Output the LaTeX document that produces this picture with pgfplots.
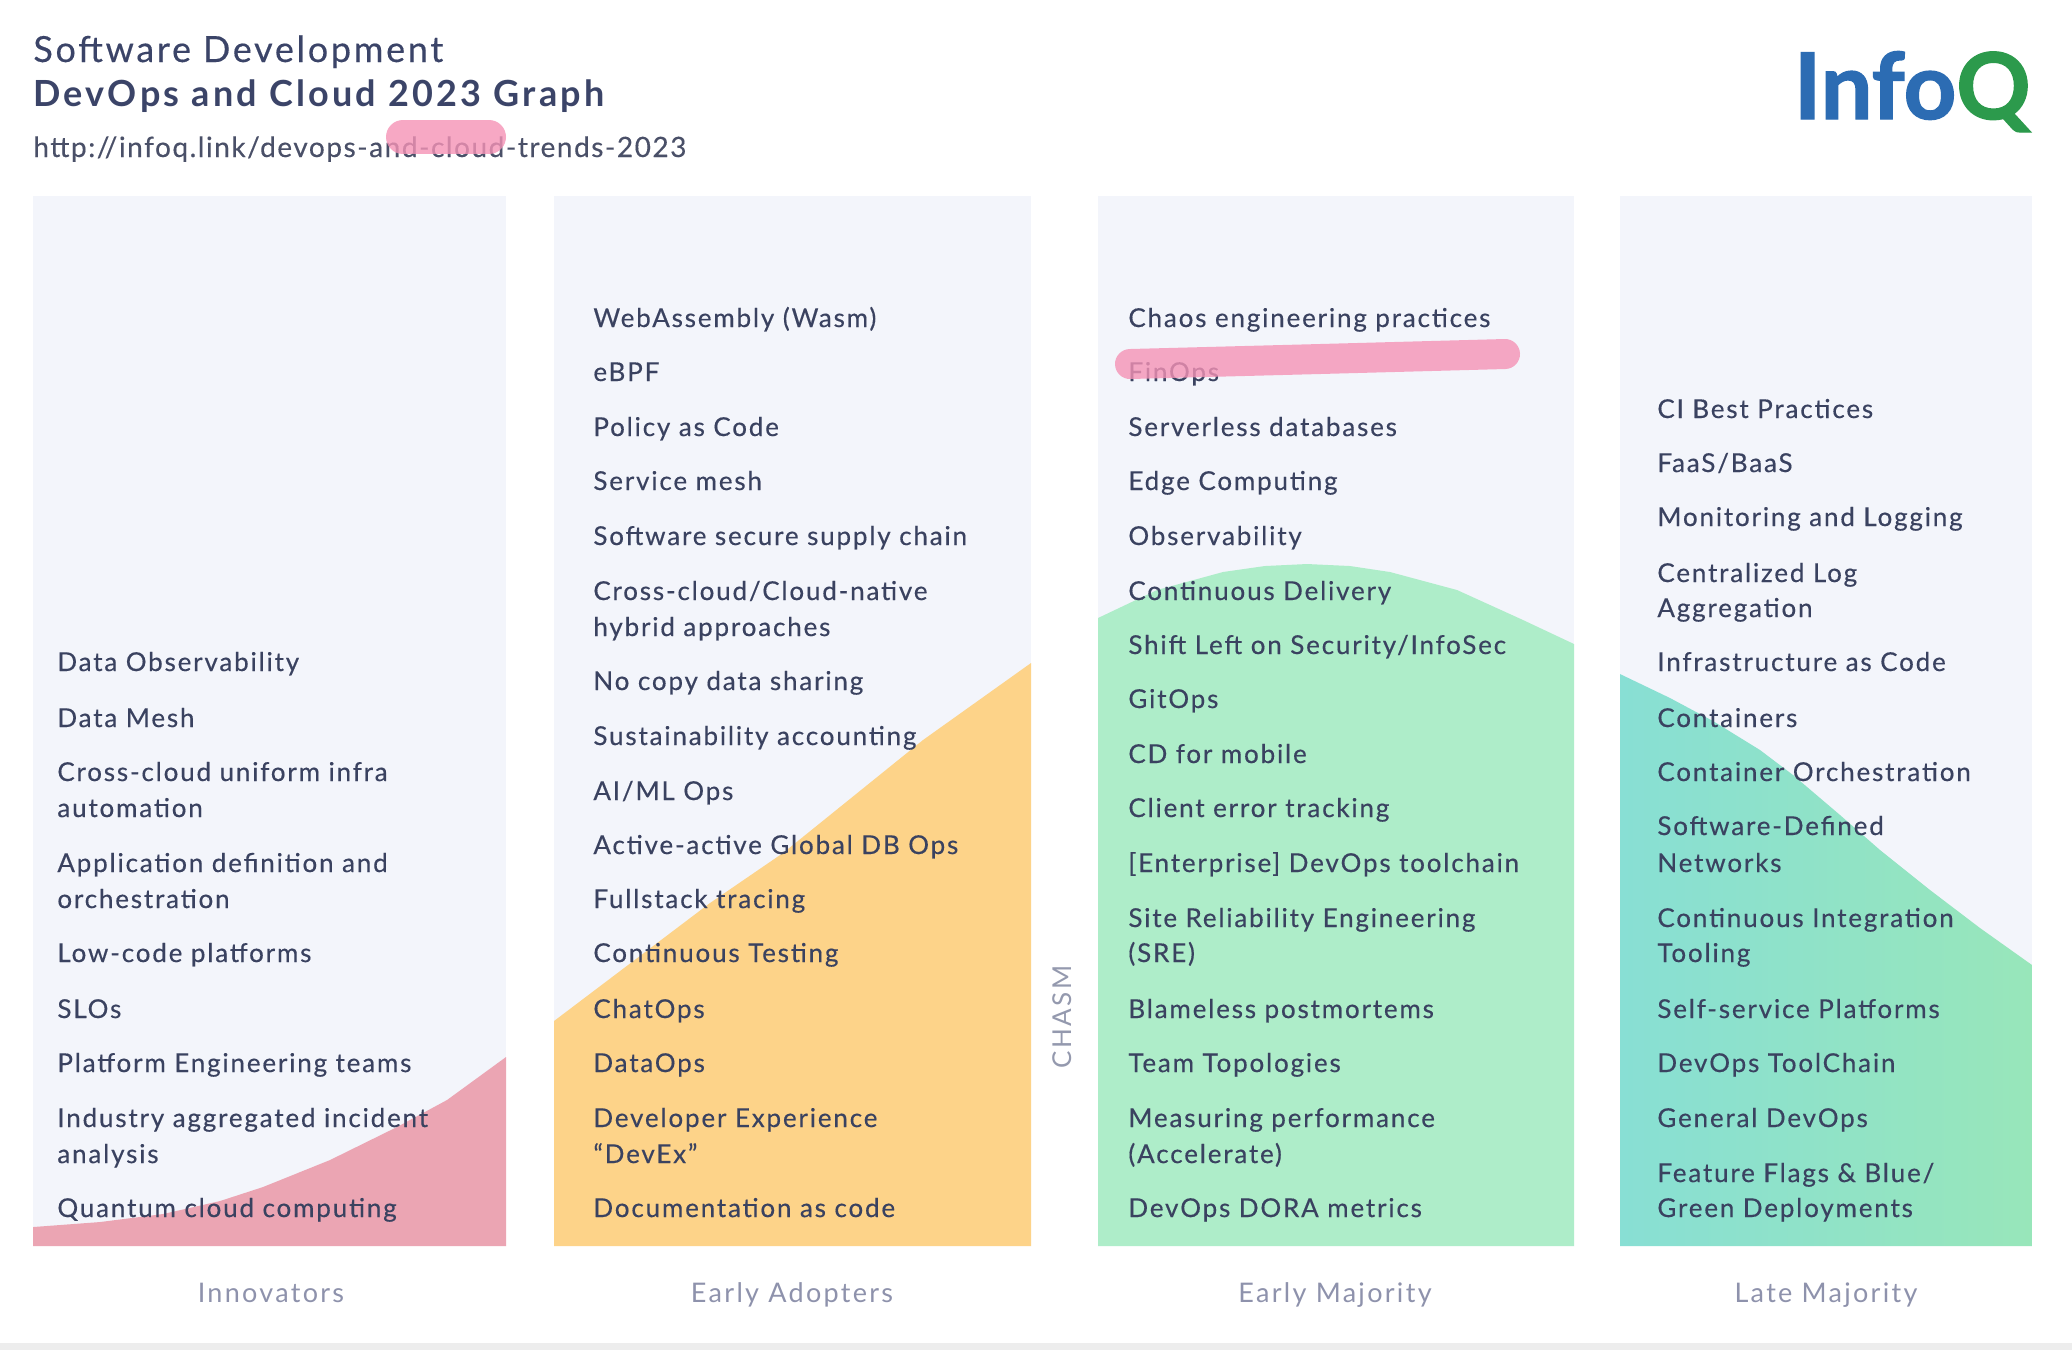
\documentclass[border=0pt]{standalone}
\usepackage{pgfplots}
\pgfplotsset{compat=1.18}
\usepackage{fontspec}
\setmainfont{Lato}[LetterSpace=7]
\definecolor{panelbg}{HTML}{F3F5FB}
\definecolor{pinkA}{HTML}{EBA5B3}
\definecolor{orangeA}{HTML}{FDD389}
\definecolor{greenA}{HTML}{AEEDC9}
\definecolor{tealL}{HTML}{88DFD4}
\definecolor{tealR}{HTML}{98E6BA}
\definecolor{txt}{HTML}{3A4260}
\definecolor{ttl}{HTML}{3B4468}
\definecolor{urlc}{HTML}{4A5068}
\definecolor{catc}{HTML}{8E92AC}
\definecolor{chasmc}{HTML}{9499AE}
\definecolor{infoblue}{HTML}{2C6CB3}
\definecolor{infogreen}{HTML}{2C9A4C}
\definecolor{hl}{HTML}{F593B6}
\newcommand\bodyfont{\fontsize{13}{15}\selectfont\addfontfeature{FakeBold=0.35}}
\tikzset{
  itm/.style={anchor=base west, font=\bodyfont, text=txt, inner sep=0pt},
  cat/.style={anchor=base, font=\fontsize{13.5}{16}\selectfont\addfontfeature{LetterSpace=8.5}, text=catc, inner sep=0pt}}
\begin{document}
\begin{tikzpicture}
\begin{axis}[width=1036pt, height=675pt, scale only axis,
  xmin=0, xmax=2072, ymin=0, ymax=1350, y dir=reverse,
  hide axis, clip=false]
% background
\addplot[draw=none, fill=white] coordinates {(0,0) (2072,0) (2072,1350) (0,1350)} -- cycle;
\addplot[draw=none, fill=black!7] coordinates {(0,1343) (2072,1343) (2072,1350) (0,1350)} -- cycle;
% panels
\addplot[draw=none, fill=panelbg] coordinates {(33,196) (506,196) (506,1246) (33,1246)} -- cycle;
\addplot[draw=none, fill=panelbg] coordinates {(554,196) (1031,196) (1031,1246) (554,1246)} -- cycle;
\addplot[draw=none, fill=panelbg] coordinates {(1098,196) (1574,196) (1574,1246) (1098,1246)} -- cycle;
\addplot[draw=none, fill=panelbg] coordinates {(1620,196) (2032,196) (2032,1246) (1620,1246)} -- cycle;
% adoption curves
\addplot[draw=none, fill=pinkA] coordinates {(33,1246) (33,1227) (100,1222) (163,1214) (220,1201) (263,1187) (330,1160) (397,1127) (447,1100) (506,1057) (506,1246)} -- cycle;
\addplot[draw=none, fill=orangeA] coordinates {(554,1246) (554,1021) (710,903) (783,853) (923,740) (1031,663) (1031,1246)} -- cycle;
\addplot[draw=none, fill=greenA] coordinates {(1098,1246) (1098,618) (1157,590) (1223,572) (1265,566) (1307,564) (1350,566) (1390,572) (1457,590) (1523,620) (1574,644) (1574,1246)} -- cycle;
\addplot[draw=none, left color=tealL, right color=tealR] coordinates {(1620,1246) (1620,674) (1670,698) (1713,721) (1760,750) (1793,775) (1840,815) (1880,850) (1930,890) (1980,928) (2032,965) (2032,1246)} -- cycle;
% titles
\node[anchor=base west, inner sep=0pt, text=ttl, font=\fontsize{18}{20}\selectfont\addfontfeature{LetterSpace=7.5,FakeBold=0.3}] at (33,62) {Software Development};
\node[anchor=base west, inner sep=0pt, text=ttl, font=\fontsize{18}{20}\selectfont\bfseries\addfontfeature{LetterSpace=9}] at (33,106) {DevOps and Cloud 2023 Graph};
\node[anchor=base west, inner sep=0pt, text=urlc, font=\fontsize{14}{16}\selectfont\addfontfeature{LetterSpace=5.5,FakeBold=0.3}] at (33,157) {http://infoq.link/devops-and-cloud-trends-2023};
\node[anchor=base east, inner sep=0pt, font=\fontsize{46}{50}\selectfont\bfseries\addfontfeature{LetterSpace=0,FakeBold=1.5}] at (2031,119) {\textcolor{infoblue}{Info}\textcolor{infogreen}{Q}};
% Innovators
\node[itm] at (57,671) {Data Observability};
\node[itm] at (57,727) {Data Mesh};
\node[itm] at (57,781) {Cross-cloud uniform infra};
\node[itm] at (57,817) {automation};
\node[itm] at (57,872) {Application definition and};
\node[itm] at (57,908) {orchestration};
\node[itm] at (57,962) {Low-code platforms};
\node[itm] at (57,1018) {SLOs};
\node[itm] at (57,1072) {Platform Engineering teams};
\node[itm] at (57,1127) {Industry aggregated incident};
\node[itm] at (57,1163) {analysis};
\node[itm] at (57,1217) {Quantum cloud computing};
% Early Adopters
\node[itm] at (593,327) {WebAssembly (Wasm)};
\node[itm] at (593,381) {eBPF};
\node[itm] at (593,436) {Policy as Code};
\node[itm] at (593,490) {Service mesh};
\node[itm] at (593,545) {Software secure supply chain};
\node[itm] at (593,600) {Cross-cloud/Cloud-native};
\node[itm] at (593,636) {hybrid approaches};
\node[itm] at (593,690) {No copy data sharing};
\node[itm] at (593,745) {Sustainability accounting};
\node[itm] at (593,800) {AI/ML Ops};
\node[itm] at (593,854) {Active-active Global DB Ops};
\node[itm] at (593,908) {Fullstack tracing};
\node[itm] at (593,962) {Continuous Testing};
\node[itm] at (593,1018) {ChatOps};
\node[itm] at (593,1072) {DataOps};
\node[itm] at (593,1127) {Developer Experience};
\node[itm] at (593,1163) {“DevEx”};
\node[itm] at (593,1217) {Documentation as code};
% Early Majority
\node[itm] at (1128,327) {Chaos engineering practices};
\node[itm] at (1128,381) {FinOps};
\node[itm] at (1128,436) {Serverless databases};
\node[itm] at (1128,490) {Edge Computing};
\node[itm] at (1128,545) {Observability};
\node[itm] at (1128,600) {Continuous Delivery};
\node[itm] at (1128,654) {Shift Left on Security/InfoSec};
\node[itm] at (1128,708) {GitOps};
\node[itm] at (1128,763) {CD for mobile};
\node[itm] at (1128,817) {Client error tracking};
\node[itm] at (1128,872) {[Enterprise] DevOps toolchain};
\node[itm] at (1128,927) {Site Reliability Engineering};
\node[itm] at (1128,962) {(SRE)};
\node[itm] at (1128,1018) {Blameless postmortems};
\node[itm] at (1128,1072) {Team Topologies};
\node[itm] at (1128,1127) {Measuring performance};
\node[itm] at (1128,1163) {(Accelerate)};
\node[itm] at (1128,1217) {DevOps DORA metrics};
% Late Majority
\node[itm] at (1657,418) {CI Best Practices};
\node[itm] at (1657,472) {FaaS/BaaS};
\node[itm] at (1657,526) {Monitoring and Logging};
\node[itm] at (1657,582) {Centralized Log};
\node[itm] at (1657,617) {Aggregation};
\node[itm] at (1657,671) {Infrastructure as Code};
\node[itm] at (1657,727) {Containers};
\node[itm] at (1657,781) {Container Orchestration};
\node[itm] at (1657,835) {Software-Defined};
\node[itm] at (1657,872) {Networks};
\node[itm] at (1657,927) {Continuous Integration};
\node[itm] at (1657,962) {Tooling};
\node[itm] at (1657,1018) {Self-service Platforms};
\node[itm] at (1657,1072) {DevOps ToolChain};
\node[itm] at (1657,1127) {General DevOps};
\node[itm] at (1657,1182) {Feature Flags \& Blue/};
\node[itm] at (1657,1217) {Green Deployments};
% chasm
\node[rotate=90, inner sep=0pt, text=chasmc, font=\fontsize{13}{15}\selectfont\addfontfeature{LetterSpace=10}] at (1062,1017) {CHASM};
% category labels
\node[cat] at (271,1302) {Innovators};
\node[cat] at (792,1302) {Early Adopters};
\node[cat] at (1335,1302) {Early Majority};
\node[cat] at (1826,1302) {Late Majority};
% highlighter marks
\addplot[hl, opacity=0.8, line width=17pt, line cap=round] coordinates {(403,137) (489,137)};
\addplot[hl, opacity=0.8, line width=15pt, line cap=round] coordinates {(1130,364) (1320,359) (1505,354)};
\end{axis}
\end{tikzpicture}
\end{document}
